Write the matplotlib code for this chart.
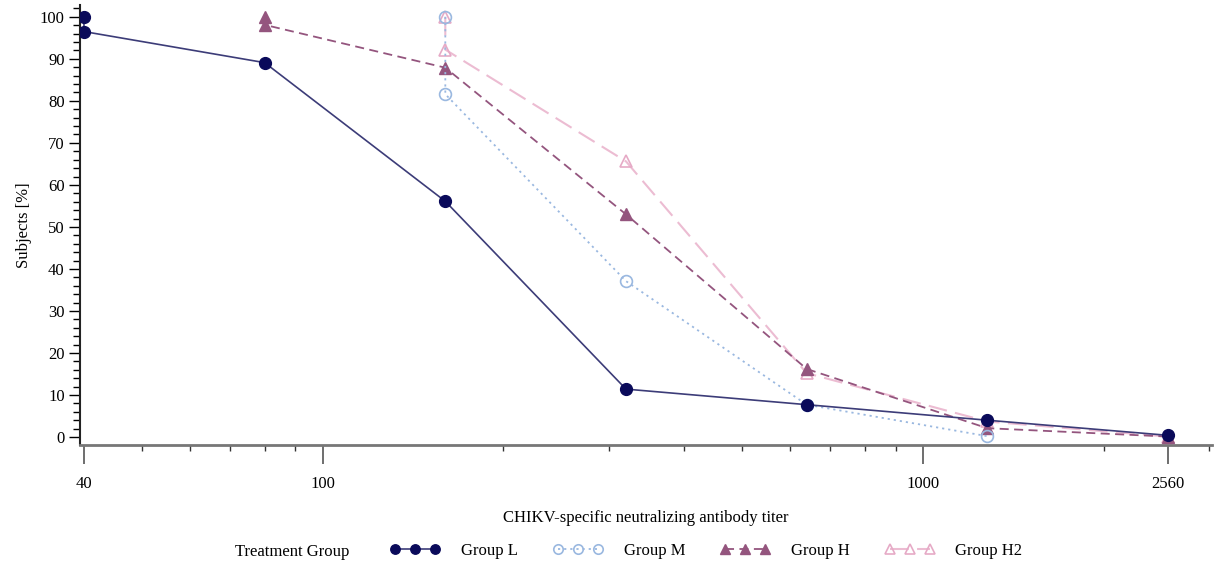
import matplotlib
matplotlib.use("Agg")
import matplotlib.pyplot as plt
from matplotlib.ticker import FixedLocator, LogLocator, NullFormatter, MultipleLocator

plt.rcParams['font.family'] = ['Liberation Serif', 'DejaVu Serif']

# reverse cumulative distribution of titers per group
titer_L = [40, 40, 80, 160, 320, 640, 1280, 2560]
pct_L = [100, 96.5, 89.1, 56.1, 11.4, 7.7, 4.0, 0.4]

titer_M = [160, 160, 320, 640, 1280]
pct_M = [100, 81.6, 37.1, 7.7, 0.2]

titer_H = [80, 80, 160, 320, 640, 1280, 2560]
pct_H = [100, 98.1, 87.9, 53.0, 16.2, 2.1, 0.1]

titer_H2 = [160, 160, 320, 640, 1280, 2560]
pct_H2 = [100, 92.2, 65.6, 15.2, 3.7, 0.1]

x_ticks = [40, 100, 1000, 2560]

fig = plt.figure(figsize=(12.18, 5.65), dpi=100)
ax = fig.add_axes([0.0657, 0.2124, 0.9293, 0.7786])

ax.plot(titer_L, pct_L, color='#3c3c78', lw=1.2, marker='o', ms=8.5,
        mfc='#0a0a5a', mec='#0a0a5a', label='Group L', zorder=5)
ax.plot(titer_M, pct_M, color='#9ab8e0', lw=1.3, ls=(0, (1.2, 2.2)), marker='o', ms=8.5,
        mfc='none', mec='#9ab8e0', mew=1.2, label='Group M', zorder=4)
ax.plot(titer_H, pct_H, color='#94557e', lw=1.3, ls=(0, (5, 3)), marker='^', ms=9,
        mfc='#94557e', mec='#94557e', label='Group H', zorder=3)
ax.plot(titer_H2, pct_H2, color='#ecbcd2', lw=1.5, ls=(0, (9, 4)), marker='^', ms=9,
        mfc='none', mec='#e6aac6', mew=1.2, label='Group H2', zorder=2)

ax.set_xscale('log')
ax.set_xlim(39.4, 3030)
ax.set_ylim(-1.9, 102.8)

ax.xaxis.set_major_locator(FixedLocator(x_ticks))
ax.set_xticklabels([str(t) for t in x_ticks])
ax.xaxis.set_minor_locator(LogLocator(base=10, subs=range(2, 10)))
ax.xaxis.set_minor_formatter(NullFormatter())
ax.yaxis.set_major_locator(MultipleLocator(10))
ax.yaxis.set_minor_locator(MultipleLocator(2))

ax.tick_params(axis='x', which='major', length=14, width=1.2, color='#555555',
               labelsize=12, pad=8)
ax.tick_params(axis='x', which='minor', length=4, width=1, color='#333333')
ax.tick_params(axis='y', which='major', length=8, width=1, labelsize=12, pad=3)
ax.tick_params(axis='y', which='minor', length=5, width=1)

for s in ['top', 'right']:
    ax.spines[s].set_visible(False)
ax.spines['bottom'].set_color('#777777')
ax.spines['bottom'].set_linewidth(2)
ax.spines['left'].set_color('#222222')
ax.spines['left'].set_linewidth(1.5)

ax.set_xlabel('CHIKV-specific neutralizing antibody titer', fontsize=12, labelpad=13)
ax.set_ylabel('Subjects [%]', fontsize=12, labelpad=6)

fig.text(235 / 1218, 1 - 552 / 565, 'Treatment Group', fontsize=12, va='center')
fig.legend(loc='center left', bbox_to_anchor=(375 / 1218, 1 - 551 / 565), ncol=4,
           frameon=False, numpoints=3, handlelength=3.0, columnspacing=2.1,
           handletextpad=1.25, fontsize=12, markerscale=0.8)

fig.savefig('out.png', dpi=100)
